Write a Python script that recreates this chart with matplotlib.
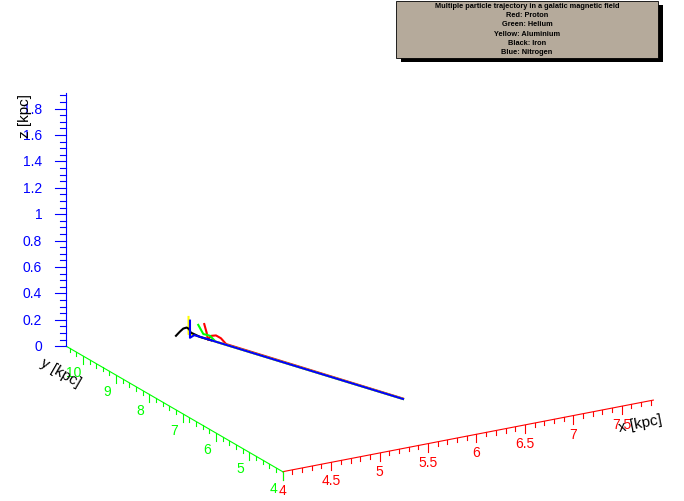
import numpy as np
import matplotlib
matplotlib.use('Agg')
import matplotlib.pyplot as plt
from matplotlib.patches import Rectangle

plt.rcParams['font.family'] = ['Liberation Sans', 'DejaVu Sans']

# frame ranges [kpc]
x_range = (4.0, 7.826)
y_range = (4.0, 10.5)
z_range = (0.0, 1.92)

x_major = [4, 4.5, 5, 5.5, 6, 6.5, 7, 7.5]
x_labels = ['4', '4.5', '5', '5.5', '6', '6.5', '7', '7.5']
y_major = [4, 5, 6, 7, 8, 9, 10]
y_labels = ['4', '5', '6', '7', '8', '9', '10']
z_major = [0, 0.2, 0.4, 0.6, 0.8, 1.0, 1.2, 1.4, 1.6, 1.8]
z_labels = ['0', '0.2', '0.4', '0.6', '0.8', '1', '1.2', '1.4', '1.6', '1.8']

# particle trajectories [kpc]
proton_x = [5.176, 5.185, 5.190, 5.201, 5.219, 5.237, 5.256, 5.903]
proton_y = [9.776, 9.729, 9.704, 9.646, 9.549, 9.452, 9.352, 5.925]
proton_z = [0.107, 0.046, -0.004, 0.033, 0.048, 0.038, 0.006, 0.003]

helium_x = [5.154, 5.173, 5.185, 5.197, 5.218, 5.903]
helium_y = [9.892, 9.795, 9.729, 9.665, 9.557, 5.922]
helium_z = [0.087, 0.029, 0.031, 0.031, 0.0, 0.0]

aluminium_x = [5.109, 5.109, 5.134, 5.903]
aluminium_y = [10.053, 10.053, 10.000, 5.922]
aluminium_z = [0.13, 0.0, 0.0, 0.0]

iron_x = [4.989, 5.028, 5.059, 5.092, 5.117, 5.131, 5.160, 5.202]
iron_y = [10.081, 10.073, 10.066, 10.060, 10.054, 10.052, 9.860, 9.640]
iron_z = [0.0, 0.028, 0.047, 0.051, 0.036, 0.009, 0.0, 0.0]

nitrogen_x = [5.124, 5.124, 5.140, 5.903]
nitrogen_y = [10.053, 10.053, 9.970, 5.922]
nitrogen_z = [0.10, -0.03, 0.0, 0.0]

# orthographic view of the frame box
ELEV = np.radians(19.55)
AZIM = np.radians(30.0)
BOX = (428.0, 433.0, 269.0)


def project(x, y, z):
    nx = (np.asarray(x, float) - x_range[0]) / (x_range[1] - x_range[0]) * BOX[0]
    ny = (np.asarray(y, float) - y_range[0]) / (y_range[1] - y_range[0]) * BOX[1]
    nz = (np.asarray(z, float) - z_range[0]) / (z_range[1] - z_range[0]) * BOX[2]
    u = nx * np.cos(AZIM) - ny * np.sin(AZIM)
    v = (nx * np.sin(AZIM) + ny * np.cos(AZIM)) * np.sin(ELEV) + nz * np.cos(ELEV)
    return u, v


fig = plt.figure(figsize=(6.84, 5.02), dpi=100)
ax = fig.add_axes([0, 0, 1, 1])
ax.set_xlim(-282.7, 401.3)
ax.set_ylim(-29.3, 472.7)
ax.axis('off')

axis_lw = 0.8
fs = 10

# x axis
u, v = project(x_range, [y_range[0]] * 2, [z_range[0]] * 2)
ax.plot(u, v, color='red', lw=axis_lw)
for xt in np.arange(0, 39) * 0.1 + x_range[0]:
    if xt > x_range[1]:
        break
    major = abs(xt * 2 - round(xt * 2)) < 1e-6
    tu, tv = project(xt, y_range[0], z_range[0])
    ax.plot([tu, tu], [tv, tv - (8 if major else 4)], color='red', lw=axis_lw)
for xt, lab in zip(x_major, x_labels):
    tu, tv = project(xt, y_range[0], z_range[0])
    ax.text(tu, tv - 18, lab, color='red', fontsize=fs, ha='center', va='center')

# y axis
u, v = project([x_range[0]] * 2, y_range, [z_range[0]] * 2)
ax.plot(u, v, color='#00ff00', lw=axis_lw)
for yt in np.arange(0, 33) * 0.2 + y_range[0]:
    if yt > y_range[1] + 1e-6:
        break
    major = abs(yt - round(yt)) < 1e-6
    tu, tv = project(x_range[0], yt, z_range[0])
    ax.plot([tu, tu], [tv, tv - (8 if major else 4)], color='#00ff00', lw=axis_lw)
for yt, lab in zip(y_major, y_labels):
    tu, tv = project(x_range[0], yt, z_range[0])
    ax.text(tu - 9, tv - 16, lab, color='#00ff00', fontsize=fs, ha='center', va='center')

# z axis
u, v = project([x_range[0]] * 2, [y_range[1]] * 2, z_range)
ax.plot(u, v, color='blue', lw=axis_lw)
for zt in np.arange(0, 39) * 0.05:
    if zt > z_range[1]:
        break
    major = abs(zt * 5 - round(zt * 5)) < 1e-6
    tu, tv = project(x_range[0], y_range[1], zt)
    ax.plot([tu - (11.5 if major else 6), tu], [tv, tv], color='blue', lw=axis_lw)
for zt, lab in zip(z_major, z_labels):
    tu, tv = project(x_range[0], y_range[1], zt)
    ax.text(tu - 24, tv, lab, color='blue', fontsize=fs, ha='right', va='center')

# axis titles
eu, ev = project(x_range[1], y_range[0], z_range[0])
ax.text(eu - 13, ev - 23, 'x [kpc]', fontsize=11, rotation=11,
        ha='center', va='center', rotation_mode='anchor')
eu, ev = project(x_range[0], y_range[1], z_range[0])
ax.text(eu - 6, ev - 26, 'y [kpc]', fontsize=11, rotation=-30,
        ha='center', va='center', rotation_mode='anchor')
eu, ev = project(x_range[0], y_range[1], z_range[1])
ax.text(eu - 41, ev - 22, 'z [kpc]', fontsize=11, rotation=90,
        ha='center', va='center', rotation_mode='anchor')

# trajectories
tracks = [
    (proton_x, proton_y, proton_z, 'red'),
    (helium_x, helium_y, helium_z, '#00ff00'),
    (aluminium_x, aluminium_y, aluminium_z, '#ffff00'),
    (iron_x, iron_y, iron_z, 'black'),
    (nitrogen_x, nitrogen_y, nitrogen_z, 'blue'),
]
for tx, ty, tz, col in tracks:
    u, v = project(tx, ty, tz)
    ax.plot(u, v, color=col, lw=1.5, solid_joinstyle='round')

# title pave with shadow
W, H = 684.0, 502.0
left, top, right, bottom = 396.0, 2.0, 658.0, 59.0
fig.patches.append(Rectangle((left / W + 5 / W, 1 - (bottom + 4) / H),
                             (right - left) / W, (bottom - top) / H,
                             transform=fig.transFigure, facecolor='black',
                             edgecolor='none', zorder=1))
fig.patches.append(Rectangle((left / W, 1 - bottom / H),
                             (right - left) / W, (bottom - top) / H,
                             transform=fig.transFigure, facecolor='#b5aa9b',
                             edgecolor='black', lw=0.6, zorder=2))
title_lines = ['Multiple particle trajectory in a galatic magnetic field',
               'Red: Proton', 'Green: Helium', 'Yellow: Aluminium',
               'Black: Iron', 'Blue: Nitrogen']
for i, line in enumerate(title_lines):
    fig.text((left + right) / 2 / W, 1 - (6 + 9.35 * i) / H, line,
             fontsize=5.3, fontweight='bold', ha='center', va='center', zorder=3)

fig.savefig('out.png', dpi=100)
